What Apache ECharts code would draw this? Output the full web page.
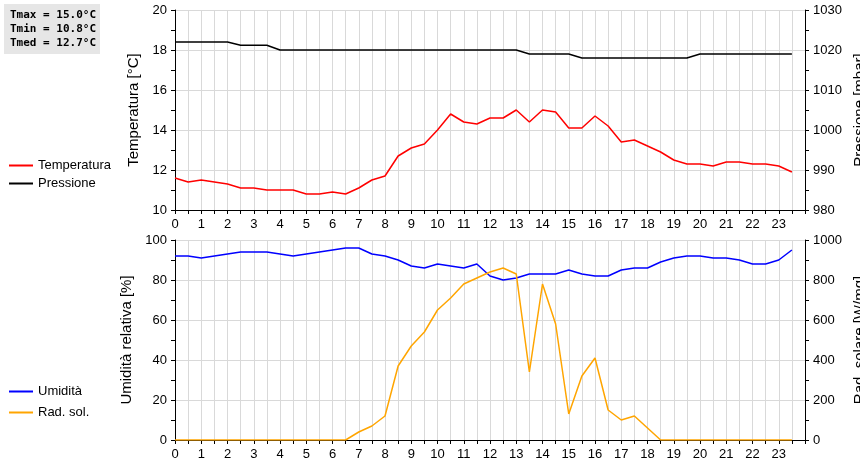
<!DOCTYPE html>
<html>
<head>
<meta charset="utf-8">
<script src="https://cdn.jsdelivr.net/npm/echarts@6/dist/echarts.min.js"></script>
<style>
  body { margin: 0; background: #fff; }
  #main { width: 860px; height: 460px; }
</style>
</head>
<body>
<div id="main"></div>
<script>
    // orari a passo di mezz'ora
    var hours = [];
    for (var i = 0; i < 48; i++) hours.push(i * 0.5);

    var temperatura = [11.6, 11.4, 11.5, 11.4, 11.3, 11.1, 11.1, 11.0, 11.0, 11.0, 10.8, 10.8,
        10.9, 10.8, 11.1, 11.5, 11.7, 12.7, 13.1, 13.3, 14.0, 14.8, 14.4, 14.3,
        14.6, 14.6, 15.0, 14.4, 15.0, 14.9, 14.1, 14.1, 14.7, 14.2, 13.4, 13.5,
        13.2, 12.9, 12.5, 12.3, 12.3, 12.2, 12.4, 12.4, 12.3, 12.3, 12.2, 11.9];
    var pressione = [1022, 1022, 1022, 1022, 1022, 1021.2, 1021.2, 1021.2, 1020, 1020, 1020, 1020,
        1020, 1020, 1020, 1020, 1020, 1020, 1020, 1020, 1020, 1020, 1020, 1020,
        1020, 1020, 1020, 1019, 1019, 1019, 1019, 1018, 1018, 1018, 1018, 1018,
        1018, 1018, 1018, 1018, 1019, 1019, 1019, 1019, 1019, 1019, 1019, 1019];
    var umidita = [92, 92, 91, 92, 93, 94, 94, 94, 93, 92, 93, 94,
        95, 96, 96, 93, 92, 90, 87, 86, 88, 87, 86, 88,
        82, 80, 81, 83, 83, 83, 85, 83, 82, 82, 85, 86,
        86, 89, 91, 92, 92, 91, 91, 90, 88, 88, 90, 95];
    var radSolare = [0, 0, 0, 0, 0, 0, 0, 0, 0, 0, 0, 0,
        0, 0, 40, 70, 120, 370, 470, 540, 650, 710, 780, 810,
        840, 860, 830, 340, 780, 580, 130, 320, 410, 150, 100, 120,
        60, 0, 0, 0, 0, 0, 0, 0, 0, 0, 0, 0];
    var statLines = ['Tmax = 15.0°C', 'Tmin = 10.8°C', 'Tmed = 12.7°C'];

    function pairs(arr) {
        return arr.map(function (v, i) { return [hours[i], v]; });
    }

    var font = 'Liberation Sans, Arial, sans-serif';
    var gridColor = '#d9d9d9';

    function xAxis(idx) {
        return {
            type: 'value', gridIndex: idx, min: 0, max: 24, interval: 1,
            axisLine: { lineStyle: { color: '#000' } },
            axisTick: { lineStyle: { color: '#000' }, length: 4 },
            axisLabel: { color: '#000', fontFamily: font, fontSize: 13,
                formatter: function (v) { return v < 24 ? v : ''; } },
            splitLine: { show: true, lineStyle: { color: gridColor } },
            minorTick: { show: true, splitNumber: 2, length: 4, lineStyle: { color: '#000' } },
            minorSplitLine: { show: true, lineStyle: { color: gridColor } }
        };
    }
    function yAxis(idx, name, min, max, interval, pos) {
        return {
            type: 'value', gridIndex: idx, position: pos, min: min, max: max, interval: interval,
            name: name, nameLocation: 'middle', nameGap: pos === 'left' ? 28 : 42,
            nameTextStyle: { color: '#000', fontFamily: font, fontSize: 15 },
            axisLine: { show: true, lineStyle: { color: '#000' } },
            axisTick: { show: true, length: 4, lineStyle: { color: '#000' } },
            minorTick: { show: true, splitNumber: 2, length: 4, lineStyle: { color: '#000' } },
            axisLabel: { color: '#000', fontFamily: font, fontSize: 13,
                formatter: function (v) { return String(v); } },
            splitLine: { show: pos === 'left', lineStyle: { color: gridColor } }
        };
    }

    var chart = echarts.init(document.getElementById('main'));
    chart.setOption({
        animation: false,
        graphic: [{
            type: 'group', left: 4, top: 4,
            children: [
                { type: 'rect', shape: { x: 0, y: 0, width: 96, height: 50 }, style: { fill: '#e6e6e6' } },
                { type: 'text', left: 6, top: 4, style: { text: statLines.join('\n'), fill: '#000',
                    font: 'bold 11px DejaVu Sans Mono, monospace', lineHeight: 14 } }
            ]
        }],
        legend: [{
            left: 4, top: 154, orient: 'vertical', itemGap: 5, itemWidth: 24, itemHeight: 2,
            icon: 'rect', textStyle: { fontFamily: font, fontSize: 13, color: '#000' },
            data: ['Temperatura', 'Pressione']
        }, {
            left: 4, top: 380, orient: 'vertical', itemGap: 8, itemWidth: 24, itemHeight: 2,
            icon: 'rect', textStyle: { fontFamily: font, fontSize: 13, color: '#000' },
            data: ['Umidità', 'Rad. sol.']
        }],
        grid: [
            { left: 175, width: 630, top: 10, height: 200, containLabel: false, outerBoundsMode: 'none' },
            { left: 175, width: 630, top: 240, height: 200, containLabel: false, outerBoundsMode: 'none' }
        ],
        xAxis: [xAxis(0), xAxis(1)],
        yAxis: [
            yAxis(0, 'Temperatura [°C]', 10, 20, 2, 'left'),
            yAxis(0, 'Pressione [mbar]', 980, 1030, 10, 'right'),
            yAxis(1, 'Umidità relativa [%]', 0, 100, 20, 'left'),
            yAxis(1, 'Rad. solare [W/mq]', 0, 1000, 200, 'right')
        ],
        series: [
            { name: 'Temperatura', type: 'line', xAxisIndex: 0, yAxisIndex: 0, data: pairs(temperatura),
              showSymbol: false, color: '#ff0000', lineStyle: { width: 1.5 } },
            { name: 'Pressione', type: 'line', xAxisIndex: 0, yAxisIndex: 1, data: pairs(pressione),
              showSymbol: false, color: '#000000', lineStyle: { width: 1.5 } },
            { name: 'Umidità', type: 'line', xAxisIndex: 1, yAxisIndex: 2, data: pairs(umidita),
              showSymbol: false, color: '#0000ff', lineStyle: { width: 1.5 } },
            { name: 'Rad. sol.', type: 'line', xAxisIndex: 1, yAxisIndex: 3, data: pairs(radSolare),
              showSymbol: false, color: '#ffa500', lineStyle: { width: 1.5 } }
        ]
    });
</script>
</body>
</html>
